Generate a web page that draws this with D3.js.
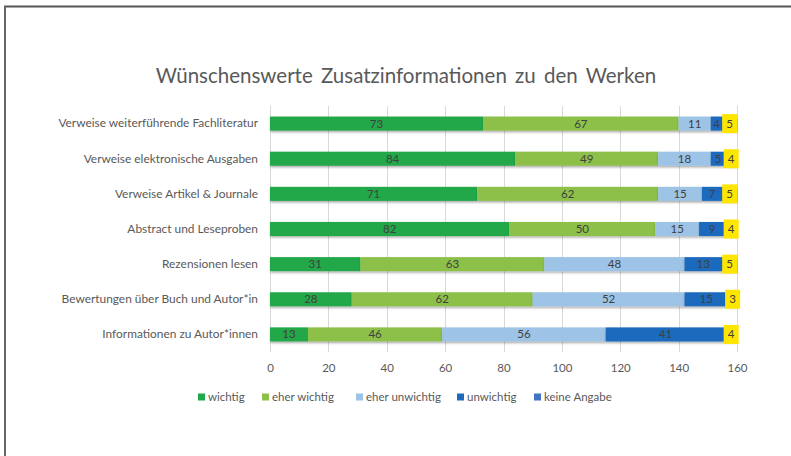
<!DOCTYPE html>
<html>
<head>
<meta charset="utf-8">
<script src="https://cdn.jsdelivr.net/npm/d3@7"></script>
<style>
  body { margin: 0; background: #fff; }
  svg text { font-family: Lato, "Open Sans", sans-serif; fill: #595959; }
</style>
</head>
<body>
<script>
// chart data
var categories = [
  "Verweise weiterführende Fachliteratur",
  "Verweise elektronische Ausgaben",
  "Verweise Artikel & Journale",
  "Abstract und Leseproben",
  "Rezensionen lesen",
  "Bewertungen über Buch und Autor*in",
  "Informationen zu Autor*innen"
];
var seriesNames = ["wichtig", "eher wichtig", "eher unwichtig", "unwichtig", "keine Angabe"];
var wichtig       = [73, 84, 71, 82, 31, 28, 13];
var eherWichtig   = [67, 49, 62, 50, 63, 62, 46];
var eherUnwichtig = [11, 18, 15, 15, 48, 52, 56];
var unwichtig     = [4, 5, 7, 9, 13, 15, 41];
var keineAngabe   = [5, 4, 5, 4, 5, 3, 4];
var xTicks = [0, 20, 40, 60, 80, 100, 120, 140, 160];

var colors = ["#21a84a", "#8dc04a", "#9dc3e6", "#1e6bbd", "#4472c4"];

var W = 791, H = 456;
var margin = { left: 270, right: 54, top: 106, bottom: 104 };

var svg = d3.select("body").append("svg")
    .attr("width", W)
    .attr("height", H);

// frame
svg.append("line").attr("x1", 4).attr("x2", W).attr("y1", 6.5).attr("y2", 6.5)
    .attr("stroke", "#555").attr("stroke-width", 2);
svg.append("line").attr("x1", 5).attr("x2", 5).attr("y1", 6).attr("y2", H)
    .attr("stroke", "#666").attr("stroke-width", 2);

var defs = svg.append("defs");
defs.append("filter").attr("id", "shadow")
    .attr("x", "-5%").attr("y", "-50%").attr("width", "110%").attr("height", "200%")
  .append("feDropShadow")
    .attr("dx", 0.5).attr("dy", 1.5).attr("stdDeviation", 1)
    .attr("flood-color", "#000").attr("flood-opacity", 0.35);

var rows = categories.map(function(c, i) {
  return { cat: c, values: [wichtig[i], eherWichtig[i], eherUnwichtig[i], unwichtig[i], keineAngabe[i]] };
});

var x = d3.scaleLinear().domain([0, 160]).range([margin.left, W - margin.right]);
var y = d3.scaleBand().domain(categories).range([margin.top, H - margin.bottom]).paddingInner(0.6).paddingOuter(0.3);

// title
svg.append("text")
    .attr("x", 406).attr("y", 83)
    .attr("text-anchor", "middle")
    .style("font-size", "20.5px")
    .style("word-spacing", "3px")
    .text("Wünschenswerte Zusatzinformationen zu den Werken");

// gridlines
svg.append("g").selectAll("line")
    .data(xTicks)
    .enter().append("line")
    .attr("x1", function(d) { return Math.round(x(d)) + 0.5; })
    .attr("x2", function(d) { return Math.round(x(d)) + 0.5; })
    .attr("y1", margin.top)
    .attr("y2", H - margin.bottom)
    .attr("stroke", "#d9d9d9");

// x axis labels
var xAxis = svg.append("g")
    .attr("transform", "translate(0," + (H - margin.bottom) + ")")
    .call(d3.axisBottom(x).tickValues(xTicks).tickSize(0).tickPadding(12));
xAxis.select(".domain").remove();
xAxis.selectAll("text").style("font-size", "11.5px").style("fill", "#595959")
    .style("font-family", "Lato, 'Open Sans', sans-serif");

// category labels
var yAxis = svg.append("g")
    .attr("transform", "translate(" + (margin.left - 12) + ",0)")
    .call(d3.axisLeft(y).tickSize(0).tickPadding(0));
yAxis.select(".domain").remove();
yAxis.selectAll("text").style("font-size", "11.9px").style("fill", "#595959")
    .style("font-family", "Lato, 'Open Sans', sans-serif");

// stacked bars
var stackData = rows.map(function(r) {
  var o = { cat: r.cat };
  seriesNames.forEach(function(s, j) { o[s] = r.values[j]; });
  return o;
});
var stacked = d3.stack().keys(seriesNames)(stackData);

var bh = y.bandwidth();
var groups = svg.append("g").selectAll("g")
    .data(stacked)
    .enter().append("g")
    .attr("fill", function(d, i) { return colors[i]; });

groups.selectAll("rect")
    .data(function(d) { return d; })
    .enter().append("rect")
    .attr("x", function(d) { return x(d[0]); })
    .attr("y", function(d) { return y(d.data.cat); })
    .attr("width", function(d) { return x(d[1]) - x(d[0]); })
    .attr("height", bh)
    .attr("filter", "url(#shadow)");

// data labels
stacked.forEach(function(layer, i) {
  var isLast = i === seriesNames.length - 1;
  layer.forEach(function(d) {
    var cx = (x(d[0]) + x(d[1])) / 2;
    var cy = y(d.data.cat) + bh / 2;
    if (isLast) {
      svg.append("rect")
          .attr("x", cx - 7.5).attr("y", cy - 9.5)
          .attr("width", 15).attr("height", 19)
          .attr("fill", "#ffe600");
    }
    svg.append("text")
        .attr("x", cx).attr("y", cy)
        .attr("dy", "0.35em")
        .attr("text-anchor", "middle")
        .style("font-size", "11.5px")
        .style("fill", "#404040")
        .text(d[1] - d[0]);
  });
});

// legend
var legendX = [198, 262, 356, 457, 534];
var legend = svg.append("g").selectAll("g")
    .data(seriesNames)
    .enter().append("g")
    .attr("transform", function(d, i) { return "translate(" + legendX[i] + ",397)"; });
legend.append("rect")
    .attr("x", 0).attr("y", -3.5).attr("width", 7).attr("height", 7)
    .attr("fill", function(d, i) { return colors[i]; });
legend.append("text")
    .attr("x", 10).attr("y", 0).attr("dy", "0.35em")
    .style("font-size", "11.5px")
    .text(function(d) { return d; });
</script>
</body>
</html>
